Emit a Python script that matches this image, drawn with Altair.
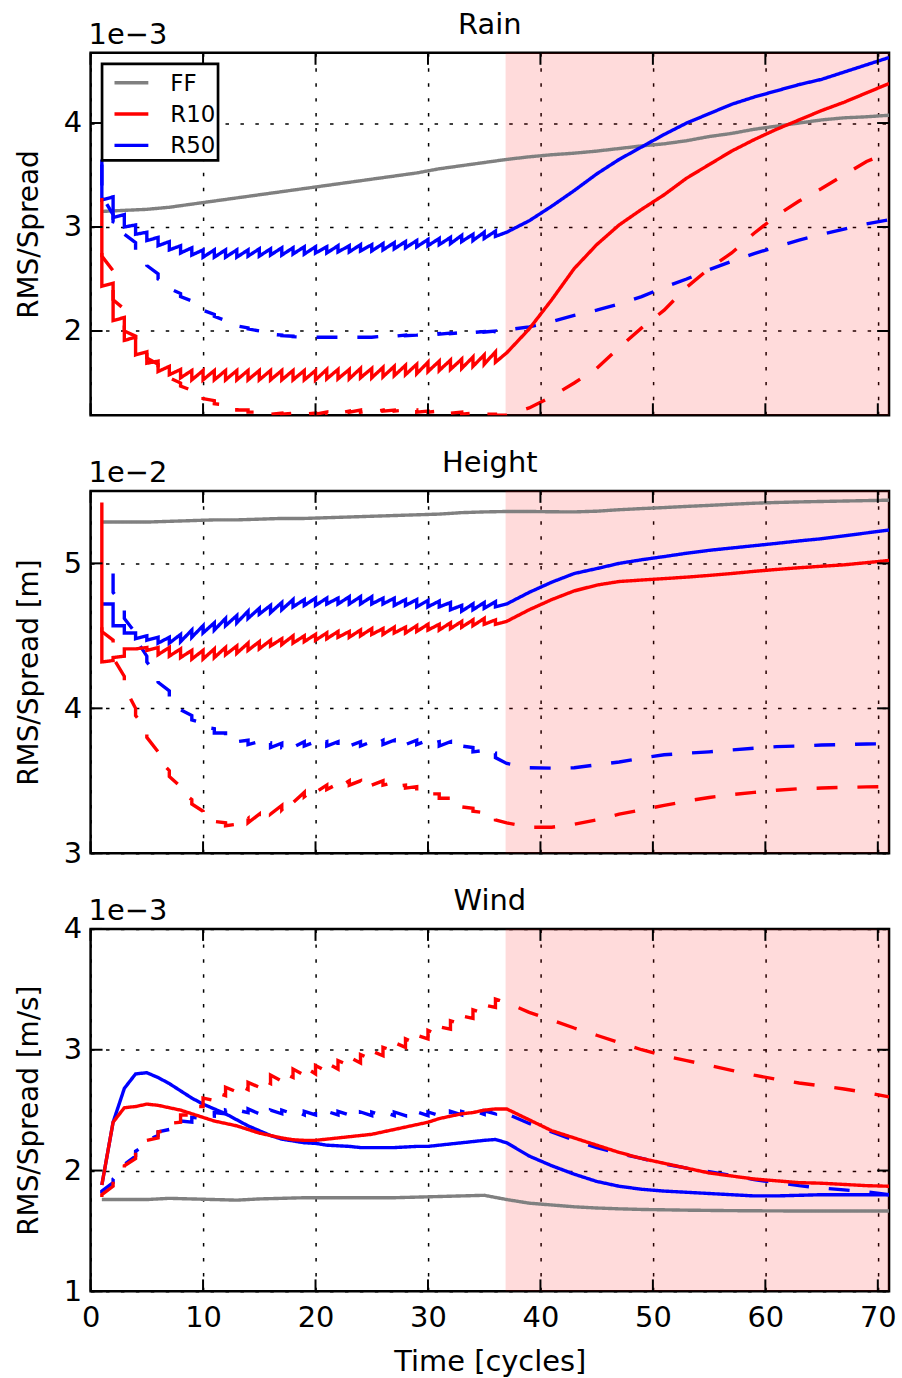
import altair as alt
import pandas as pd

FONT = "DejaVu Sans"
W, H = 802, 364

XTICKS = [0, 10, 20, 30, 40, 50, 60, 70]
T_FF = list(range(1, 72, 2))        # free forecast sampled every 2 cycles
T_FREE = list(range(37, 72, 2))     # after assimilation stops
SHADE = [36.9, 71]
MODELS = ["FF", "R10", "R50"]
COLORS = ["#808080", "#ff0000", "#0000ff"]

# ---------------- Rain (x1e-3) ----------------
rain_ff = [3.15, 3.16, 3.17, 3.19, 3.22, 3.25, 3.28, 3.31, 3.34, 3.37, 3.40, 3.43, 3.46, 3.49, 3.52, 3.56, 3.59, 3.62,
           3.65, 3.675, 3.695, 3.71, 3.73, 3.755, 3.78, 3.80, 3.83, 3.87, 3.90, 3.94, 3.97, 4.00, 4.03, 4.05, 4.06, 4.075]
rain_r10_rms_fc = [3.28, 2.46, 2.13, 1.94, 1.80, 1.71, 1.66, 1.63, 1.62, 1.62, 1.62, 1.62, 1.62, 1.62, 1.62, 1.62, 1.62, 1.62,
                   1.62, 1.62, 1.63, 1.63, 1.63, 1.64, 1.64, 1.65, 1.66, 1.67, 1.68, 1.70, 1.71, 1.72, 1.73, 1.75, 1.77, 1.80]
rain_r10_rms_an = [2.43, 2.10, 1.91, 1.77, 1.69, 1.61, 1.58, 1.55, 1.53, 1.53, 1.53, 1.53, 1.53, 1.53, 1.53, 1.53, 1.53, 1.53,
                   1.53, 1.53, 1.54, 1.54, 1.54, 1.55, 1.55, 1.56, 1.57, 1.58, 1.59, 1.61, 1.62, 1.63, 1.64, 1.66, 1.68, 1.70]
rain_r10_rms_free = [1.79, 2.02, 2.30, 2.60, 2.83, 3.02, 3.17, 3.31, 3.47, 3.60, 3.73, 3.84, 3.94, 4.03, 4.12, 4.20, 4.29, 4.38]
rain_r50_rms_fc = [3.65, 3.29, 3.12, 3.02, 2.95, 2.90, 2.86, 2.82, 2.80, 2.78, 2.78, 2.78, 2.78, 2.78, 2.79, 2.79, 2.80, 2.80,
                   2.81, 2.81, 2.81, 2.82, 2.82, 2.83, 2.83, 2.84, 2.85, 2.86, 2.87, 2.88, 2.89, 2.90, 2.92, 2.93, 2.95, 2.96]
rain_r50_rms_an = [3.26, 3.09, 3.00, 2.93, 2.87, 2.82, 2.78, 2.75, 2.73, 2.71, 2.71, 2.71, 2.71, 2.72, 2.72, 2.73, 2.73, 2.74,
                   2.74, 2.75, 2.75, 2.76, 2.76, 2.77, 2.77, 2.78, 2.79, 2.80, 2.81, 2.82, 2.83, 2.84, 2.86, 2.87, 2.89, 2.91]
rain_r50_rms_free = [2.95, 3.06, 3.20, 3.35, 3.51, 3.65, 3.77, 3.89, 4.00, 4.09, 4.18, 4.25, 4.31, 4.37, 4.42, 4.49, 4.56, 4.63]
rain_r10_spr_fc = [2.75, 2.58, 2.21, 1.95, 1.78, 1.68, 1.58, 1.50, 1.43, 1.38, 1.33, 1.29, 1.26, 1.24, 1.22, 1.21, 1.21, 1.21,
                   1.21, 1.21, 1.22, 1.23, 1.23, 1.24, 1.24, 1.24, 1.24, 1.24, 1.24, 1.23, 1.23, 1.22, 1.22, 1.21, 1.21, 1.20]
rain_r10_spr_an = [2.72, 2.30, 2.00, 1.85, 1.74, 1.64, 1.55, 1.47, 1.40, 1.35, 1.30, 1.27, 1.24, 1.22, 1.21, 1.20, 1.20, 1.20,
                   1.20, 1.20, 1.21, 1.21, 1.22, 1.22, 1.22, 1.23, 1.23, 1.22, 1.22, 1.22, 1.21, 1.21, 1.20, 1.20, 1.20, 1.19]
rain_r10_spr_free = [1.19, 1.26, 1.37, 1.50, 1.64, 1.84, 2.03, 2.20, 2.42, 2.60, 2.75, 2.94, 3.11, 3.25, 3.37, 3.50, 3.63, 3.72]
rain_r50_spr_fc = [3.60, 3.12, 3.02, 2.85, 2.68, 2.55, 2.44, 2.36, 2.29, 2.22, 2.16, 2.10, 2.06, 2.03, 2.00, 1.98, 1.96, 1.95,
                   1.94, 1.94, 1.94, 1.94, 1.94, 1.94, 1.94, 1.95, 1.95, 1.96, 1.96, 1.97, 1.975, 1.98, 1.985, 1.99, 1.995, 2.00]
rain_r50_spr_an = [3.30, 3.05, 2.93, 2.78, 2.63, 2.50, 2.41, 2.33, 2.27, 2.20, 2.14, 2.09, 2.05, 2.02, 1.99, 1.97, 1.955, 1.945,
                   1.94, 1.94, 1.94, 1.94, 1.94, 1.94, 1.94, 1.945, 1.95, 1.955, 1.96, 1.965, 1.97, 1.975, 1.98, 1.985, 1.99, 1.995]
rain_r50_spr_free = [2.01, 2.04, 2.09, 2.15, 2.20, 2.26, 2.33, 2.42, 2.50, 2.59, 2.67, 2.745, 2.81, 2.875, 2.93, 2.98, 3.03, 3.07]

# ---------------- Height (x1e-2) ----------------
height_ff = [5.285, 5.285, 5.285, 5.29, 5.295, 5.30, 5.30, 5.305, 5.31, 5.31, 5.315, 5.32, 5.325, 5.33, 5.335, 5.34, 5.35, 5.355,
             5.358, 5.358, 5.356, 5.355, 5.36, 5.37, 5.378, 5.385, 5.393, 5.40, 5.408, 5.415, 5.42, 5.424, 5.427, 5.43, 5.433, 5.436]
height_r10_rms_fc = [5.42, 4.33, 4.36, 4.41, 4.42, 4.42, 4.42, 4.41, 4.40, 4.40, 4.41, 4.42, 4.43, 4.45, 4.46, 4.47, 4.48, 4.50,
                     4.50, 4.51, 4.52, 4.53, 4.53, 4.54, 4.55, 4.55, 4.56, 4.56, 4.57, 4.58, 4.58, 4.59, 4.60, 4.61, 4.62, 4.61]
height_r10_rms_an = [4.32, 4.35, 4.41, 4.41, 4.40, 4.37, 4.36, 4.35, 4.34, 4.34, 4.35, 4.37, 4.38, 4.40, 4.41, 4.43, 4.44, 4.45,
                     4.46, 4.47, 4.48, 4.49, 4.49, 4.50, 4.51, 4.51, 4.52, 4.52, 4.53, 4.54, 4.54, 4.55, 4.56, 4.57, 4.58, 4.58]
height_r10_rms_free = [4.60, 4.68, 4.75, 4.81, 4.85, 4.875, 4.885, 4.895, 4.905, 4.917, 4.93, 4.945, 4.958, 4.97, 4.98, 4.99, 5.005, 5.02]
height_r50_rms_fc = [4.72, 4.72, 4.57, 4.52, 4.50, 4.49, 4.49, 4.51, 4.54, 4.57, 4.59, 4.62, 4.64, 4.67, 4.69, 4.71, 4.73, 4.75,
                     4.75, 4.76, 4.76, 4.76, 4.77, 4.77, 4.77, 4.76, 4.76, 4.75, 4.75, 4.745, 4.74, 4.73, 4.71, 4.72, 4.73, 4.735]
height_r50_rms_an = [4.72, 4.57, 4.52, 4.48, 4.47, 4.45, 4.45, 4.46, 4.49, 4.52, 4.54, 4.57, 4.59, 4.62, 4.65, 4.66, 4.68, 4.70,
                     4.71, 4.71, 4.72, 4.72, 4.72, 4.72, 4.72, 4.72, 4.71, 4.71, 4.70, 4.70, 4.70, 4.68, 4.67, 4.68, 4.69, 4.70]
height_r50_rms_free = [4.72, 4.80, 4.87, 4.93, 4.964, 5.00, 5.025, 5.047, 5.07, 5.09, 5.106, 5.122, 5.138, 5.155, 5.17, 5.19, 5.21, 5.23]
height_r10_spr_fc = [4.56, 4.47, 4.22, 4.00, 3.85, 3.70, 3.57, 3.46, 3.37, 3.29, 3.24, 3.21, 3.20, 3.24, 3.27, 3.30, 3.33, 3.38,
                     3.42, 3.45, 3.47, 3.48, 3.50, 3.50, 3.50, 3.50, 3.49, 3.47, 3.46, 3.43, 3.41, 3.38, 3.34, 3.31, 3.28, 3.25]
height_r10_spr_an = [4.53, 4.35, 4.15, 3.95, 3.80, 3.65, 3.53, 3.43, 3.34, 3.26, 3.22, 3.19, 3.18, 3.21, 3.24, 3.27, 3.30, 3.35,
                     3.39, 3.42, 3.44, 3.45, 3.47, 3.47, 3.47, 3.47, 3.46, 3.45, 3.43, 3.41, 3.38, 3.35, 3.32, 3.29, 3.26, 3.23]
height_r10_spr_free = [3.21, 3.18, 3.18, 3.20, 3.23, 3.27, 3.30, 3.33, 3.36, 3.385, 3.405, 3.42, 3.435, 3.445, 3.45, 3.455, 3.458, 3.46]
height_r50_spr_fc = [None, 4.93, 4.70, 4.52, 4.36, 4.22, 4.12, 4.03, 3.95, 3.90, 3.86, 3.83, 3.80, 3.78, 3.77, 3.76, 3.76, 3.76,
                     3.77, 3.77, 3.77, 3.77, 3.77, 3.77, 3.77, 3.78, 3.78, 3.78, 3.78, 3.78, 3.77, 3.77, 3.77, 3.73, 3.71, 3.69]
height_r50_spr_an = [None, 4.80, 4.62, 4.48, 4.32, 4.18, 4.08, 3.99, 3.92, 3.87, 3.83, 3.80, 3.77, 3.75, 3.74, 3.73, 3.73, 3.73,
                     3.74, 3.74, 3.74, 3.74, 3.74, 3.74, 3.74, 3.75, 3.75, 3.75, 3.75, 3.75, 3.74, 3.74, 3.74, 3.70, 3.68, 3.66]
height_r50_spr_free = [3.62, 3.59, 3.587, 3.59, 3.61, 3.63, 3.656, 3.68, 3.69, 3.70, 3.713, 3.725, 3.736, 3.74, 3.747, 3.75, 3.754, 3.755]

# ---------------- Wind (x1e-3) ----------------
wind_ff = [1.76, 1.76, 1.76, 1.77, 1.765, 1.76, 1.755, 1.765, 1.77, 1.775, 1.775, 1.775, 1.775, 1.775, 1.78, 1.785, 1.79, 1.795,
           1.76, 1.73, 1.715, 1.70, 1.69, 1.683, 1.678, 1.675, 1.672, 1.67, 1.668, 1.667, 1.666, 1.665, 1.665, 1.665, 1.665, 1.665]
wind_r10_rms = [1.88, 2.40, 2.52, 2.53, 2.55, 2.54, 2.52, 2.50, 2.47, 2.44, 2.41, 2.39, 2.37, 2.34, 2.31, 2.29, 2.27, 2.255,
                2.25, 2.25, 2.26, 2.27, 2.28, 2.29, 2.30, 2.32, 2.34, 2.36, 2.38, 2.40, 2.43, 2.45, 2.47, 2.48, 2.50, 2.51]
wind_r10_rms_free = [2.51, 2.42, 2.33, 2.27, 2.21, 2.15, 2.10, 2.06, 2.02, 1.98, 1.955, 1.93, 1.915, 1.90, 1.895, 1.885, 1.875, 1.87]
wind_r50_rms = [1.88, 2.40, 2.68, 2.80, 2.81, 2.77, 2.72, 2.66, 2.60, 2.55, 2.51, 2.47, 2.42, 2.37, 2.33, 2.29, 2.26, 2.245,
                2.23, 2.225, 2.21, 2.205, 2.20, 2.19, 2.19, 2.19, 2.19, 2.195, 2.20, 2.20, 2.21, 2.22, 2.23, 2.24, 2.25, 2.257]
wind_r50_rms_free = [2.23, 2.12, 2.04, 1.97, 1.91, 1.87, 1.845, 1.83, 1.82, 1.81, 1.80, 1.79, 1.79, 1.795, 1.80, 1.80, 1.80, 1.80]
wind_r10_spr_fc = [1.78, 1.87, 1.99, 2.10, 2.19, 2.27, 2.33, 2.40, 2.46, 2.53, 2.58, 2.62, 2.65, 2.67, 2.69, 2.72, 2.74, 2.77,
                   2.79, 2.80, 2.82, 2.84, 2.87, 2.89, 2.92, 2.95, 2.99, 3.02, 3.05, 3.09, 3.12, 3.17, 3.21, 3.26, 3.30, 3.35]
wind_r10_spr_an = [1.80, 1.92, 2.04, 2.15, 2.25, 2.32, 2.39, 2.46, 2.53, 2.60, 2.65, 2.69, 2.71, 2.73, 2.76, 2.79, 2.81, 2.84,
                   2.86, 2.87, 2.89, 2.91, 2.94, 2.96, 2.99, 3.02, 3.06, 3.09, 3.12, 3.16, 3.19, 3.24, 3.28, 3.33, 3.37, 3.42]
wind_r10_spr_free = [3.39, 3.31, 3.245, 3.18, 3.12, 3.06, 3.00, 2.95, 2.91, 2.87, 2.83, 2.79, 2.755, 2.725, 2.70, 2.675, 2.645, 2.61]
wind_r50_spr_fc = [1.81, 1.90, 2.02, 2.12, 2.22, 2.29, 2.34, 2.37, 2.40, 2.43, 2.45, 2.47, 2.47, 2.48, 2.47, 2.47, 2.47, 2.47,
                   2.46, 2.46, 2.46, 2.46, 2.46, 2.455, 2.455, 2.455, 2.455, 2.455, 2.455, 2.455, 2.455, 2.46, 2.46, 2.465, 2.465, 2.47]
wind_r50_spr_an = [1.83, 1.93, 2.05, 2.16, 2.25, 2.32, 2.37, 2.41, 2.44, 2.46, 2.48, 2.50, 2.50, 2.51, 2.50, 2.50, 2.50, 2.50,
                   2.49, 2.49, 2.49, 2.49, 2.49, 2.485, 2.485, 2.485, 2.485, 2.485, 2.485, 2.485, 2.485, 2.49, 2.49, 2.495, 2.495, 2.50]
wind_r50_spr_free = [2.47, 2.39, 2.32, 2.25, 2.19, 2.14, 2.10, 2.055, 2.02, 1.99, 1.96, 1.925, 1.90, 1.875, 1.855, 1.84, 1.825, 1.80]


def panel_df(ff, series):
    rows = []
    for t, v in zip(T_FF, ff):
        rows.append({"t": t, "v": v, "model": "FF", "kind": "rms", "i": len(rows)})
    for model, kind, fc, an, free in series:
        for k in range(36):
            for val in (fc[k], an[k]):
                if val is not None:
                    rows.append({"t": k + 1, "v": val, "model": model, "kind": kind, "i": len(rows)})
        for t, v in zip(T_FREE, free):
            rows.append({"t": t, "v": v, "model": model, "kind": kind, "i": len(rows)})
    return pd.DataFrame(rows)


rain_df = panel_df(rain_ff, [
    ("R50", "spread", rain_r50_spr_fc, rain_r50_spr_an, rain_r50_spr_free),
    ("R50", "rms", rain_r50_rms_fc, rain_r50_rms_an, rain_r50_rms_free),
    ("R10", "spread", rain_r10_spr_fc, rain_r10_spr_an, rain_r10_spr_free),
    ("R10", "rms", rain_r10_rms_fc, rain_r10_rms_an, rain_r10_rms_free),
])
height_df = panel_df(height_ff, [
    ("R50", "spread", height_r50_spr_fc, height_r50_spr_an, height_r50_spr_free),
    ("R50", "rms", height_r50_rms_fc, height_r50_rms_an, height_r50_rms_free),
    ("R10", "spread", height_r10_spr_fc, height_r10_spr_an, height_r10_spr_free),
    ("R10", "rms", height_r10_rms_fc, height_r10_rms_an, height_r10_rms_free),
])
wind_df = panel_df(wind_ff, [
    ("R50", "spread", wind_r50_spr_fc, wind_r50_spr_an, wind_r50_spr_free),
    ("R50", "rms", wind_r50_rms, wind_r50_rms, wind_r50_rms_free),
    ("R10", "spread", wind_r10_spr_fc, wind_r10_spr_an, wind_r10_spr_free),
    ("R10", "rms", wind_r10_rms, wind_r10_rms, wind_r10_rms_free),
])

LINE_W = 3.4


def legend_layers():
    box = alt.Chart(pd.DataFrame({"a": [0]})).mark_rect(
        fill="white", stroke="black", strokeWidth=2.7).encode(
        x=alt.value(11.5), x2=alt.value(128), y=alt.value(11), y2=alt.value(108))
    layers = [box]
    for j, (name, col) in enumerate(zip(MODELS, COLORS)):
        yy = 30 + 31.5 * j
        d = pd.DataFrame({"s": [name]})
        layers.append(alt.Chart(d).mark_rule(color=col, strokeWidth=LINE_W).encode(
            x=alt.value(24), x2=alt.value(58), y=alt.value(yy)))
        layers.append(alt.Chart(d).mark_text(font=FONT, fontSize=23, align="left", baseline="middle",
                                             color="black").encode(
            text="s:N", x=alt.value(80), y=alt.value(yy + 1)))
    return layers


def make_panel(df, title, offset_txt, ylab, ydom, yticks, show_x, with_legend):
    xs = alt.Scale(domain=[0, 71], nice=False, zero=False)
    ys = alt.Scale(domain=ydom, nice=False, zero=False)
    xaxis = alt.Axis(values=XTICKS, grid=True, ticks=False, domain=False, labels=show_x,
                     labelOverlap=False, labelFlush=False, labelPadding=12, titlePadding=16,
                     title="Time [cycles]" if show_x else None)
    yaxis = alt.Axis(values=yticks, grid=True, ticks=False, domain=False, format="d",
                     labelOverlap=False, labelFlush=False, labelPadding=9, titlePadding=20, title=ylab,
                     titleFontSize=28)
    X = alt.X("t:Q", scale=xs, axis=xaxis)
    Y = alt.Y("v:Q", scale=ys, axis=yaxis)

    shade = alt.Chart(pd.DataFrame({"t": [SHADE[0]], "t2": [SHADE[1]]})).mark_rect(
        color="#ff0000", opacity=0.14, clip=True).encode(
        x=X, x2="t2:Q", y=alt.value(0), y2=alt.value(H))

    color = alt.Color("model:N", scale=alt.Scale(domain=MODELS, range=COLORS), legend=None)
    dash = alt.StrokeDash("kind:N", scale=alt.Scale(domain=["rms", "spread"], range=[[1, 0], [21, 20]]),
                          legend=None)
    base = alt.Chart(df).mark_line(strokeWidth=LINE_W, clip=True).encode(
        x=X, y=Y, color=color, strokeDash=dash, order="i:Q")
    lines = [base.transform_filter(alt.datum.model == m) for m in ["FF", "R50", "R10"]]

    xt = pd.DataFrame({"t": XTICKS})
    yt = pd.DataFrame({"v": yticks})
    tick_style = dict(color="black", strokeWidth=2)
    xb = alt.Chart(xt).mark_rule(**tick_style).encode(x=X, y=alt.value(H), y2=alt.value(H - 12))
    xtp = alt.Chart(xt).mark_rule(**tick_style).encode(x=X, y=alt.value(0), y2=alt.value(12))
    yl = alt.Chart(yt).mark_rule(**tick_style).encode(y=Y, x=alt.value(0), x2=alt.value(12))
    yr = alt.Chart(yt).mark_rule(**tick_style).encode(y=Y, x=alt.value(W), x2=alt.value(W - 12))

    ttl = alt.Chart(pd.DataFrame({"s": [title]})).mark_text(
        font=FONT, fontSize=29, align="center", baseline="alphabetic", color="black").encode(
        text="s:N", x=alt.value(W / 2), y=alt.value(-19))
    off = alt.Chart(pd.DataFrame({"s": [offset_txt]})).mark_text(
        font=FONT, fontSize=29, align="left", baseline="alphabetic", color="black").encode(
        text="s:N", x=alt.value(-2), y=alt.value(-9))

    layers = [shade, *lines, xb, xtp, yl, yr, ttl, off]
    if with_legend:
        layers += legend_layers()
    return alt.layer(*layers).properties(width=W, height=H)


p1 = make_panel(rain_df, "Rain", "1e\u22123", "RMS/Spread", [1.19, 4.675], [2, 3, 4], False, True)
p2 = make_panel(height_df, "Height", "1e\u22122", "RMS/Spread [m]", [3.0, 5.5], [3, 4, 5], False, False)
p3 = make_panel(wind_df, "Wind", "1e\u22123", "RMS/Spread [m/s]", [1.0, 4.0], [1, 2, 3, 4], True, False)

chart = alt.vconcat(p1, p2, p3, spacing=76, bounds="flush").properties(
    padding={"left": 14, "top": 6, "right": 4, "bottom": 4},
    background="white",
).configure_view(stroke="black", strokeWidth=2.5).configure_axis(
    labelFont=FONT, labelFontSize=29, labelColor="black",
    titleFont=FONT, titleFontSize=29, titleFontWeight="normal", titleColor="black",
    gridColor="black", gridDash=[3.5, 11.5], gridWidth=1.5, gridOpacity=1,
)

chart.save("out.html", embed_options={"renderer": "svg", "actions": False})
